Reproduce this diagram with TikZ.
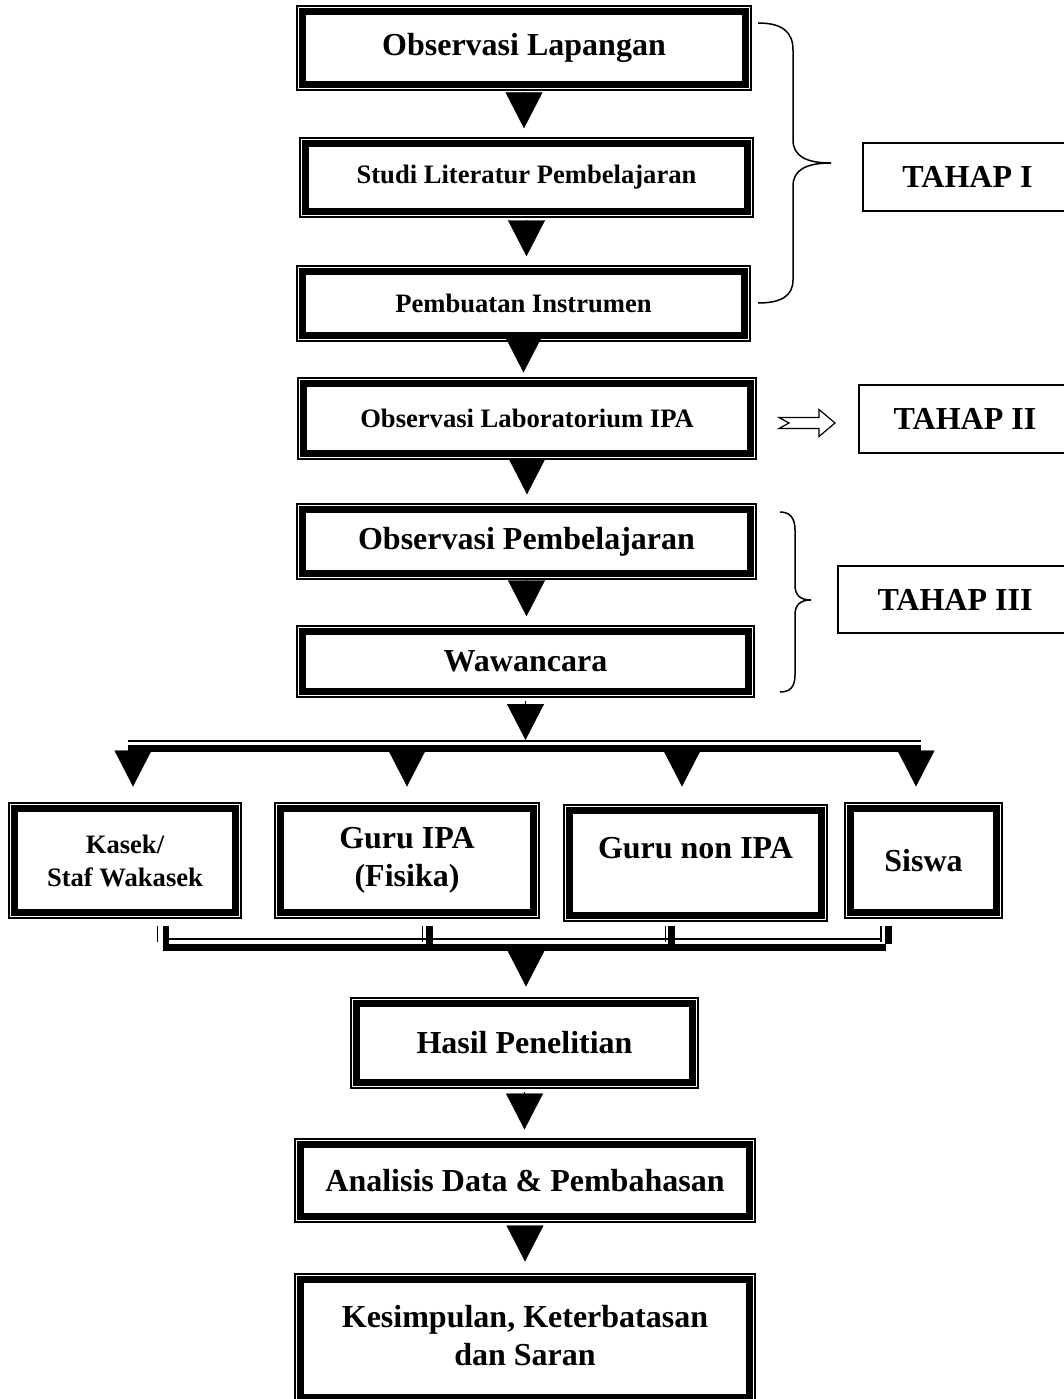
\documentclass[tikz,border=0pt]{standalone}
\usepackage{fontspec}
\setmainfont{Liberation Serif}
\usetikzlibrary{arrows.meta,calc}

\newcommand{\Lg}{\fontsize{32}{38}\selectfont\bfseries}
\newcommand{\Sm}{\fontsize{26.6}{33}\selectfont\bfseries}

\tikzset{
  inbox/.style={draw, rectangle, line width=7pt, inner sep=0pt, align=center},
  outline/.style={line width=1.6pt},
  tahap/.style={draw, rectangle, line width=1.5pt, inner sep=0pt, font=\Lg},
  blk/.style={line width=0.4pt, -{Triangle[width=37pt,length=36pt]}},
  thinbar/.style={line width=1.5pt},
  thickbar/.style={line width=6.7pt},
  brace/.style={line width=1.5pt},
}

% name, x1, y1, x2, y2, font, text
\newcommand{\fbx}[7]{%
  \draw[outline] (#2+0.8,#3+0.8) rectangle (#4-0.8,#5-0.8);
  \node[inbox, font=#6, minimum width={#4-#2-13.6}, minimum height={#5-#3-13.6}]
    (#1) at ({(#2+#4)/2},{(#3+#5)/2}) {#7};
}

\begin{document}
\begin{tikzpicture}[x=1pt,y=-1pt]
\useasboundingbox (0,0) rectangle (1064,1399);
\clip (0,0) rectangle (1064,1399);
\fill[white] (0,0) rectangle (1064,1399);

% main column
\fbx{b1}{296}{5}{752}{91}{\Lg}{Observasi Lapangan}
\fbx{b2}{299}{137}{754}{218}{\Sm}{Studi Literatur Pembelajaran}
\fbx{b3}{296}{265}{751}{342}{\Sm}{Pembuatan Instrumen}
\fbx{b4}{297}{377}{757}{460}{\Sm}{Observasi Laboratorium IPA}
\fbx{b5}{296}{503}{757}{580}{\Lg}{Observasi Pembelajaran}
\fbx{b6}{296}{625}{755}{698}{\Lg}{Wawancara}

% row
\fbx{k}{8}{802}{242}{919}{\Sm}{Kasek/\\Staf Wakasek}
\fbx{g}{274}{802}{540}{919}{\Lg}{Guru IPA\\(Fisika)}
\fbx{n}{563}{804}{828}{922}{\Lg}{\raisebox{30pt}{Guru non IPA}}
\fbx{s}{844}{802}{1003}{919}{\Lg}{Siswa}

% bottom column
\fbx{h}{350}{997}{699}{1089}{\Lg}{Hasil Penelitian}
\fbx{a}{294}{1138}{756}{1223}{\Lg}{Analisis Data \& Pembahasan}
\fbx{z}{294}{1273}{756}{1404}{\Lg}{\raisebox{8pt}{\begin{tabular}{@{}c@{}}Kesimpulan, Keterbatasan\\dan Saran\end{tabular}}}

% TAHAP boxes
\node[tahap, minimum width=209, minimum height=68] (t1) at (967.5,177) {TAHAP I};
\node[tahap, minimum width=212, minimum height=68] (t2) at (965,419) {TAHAP II};
\node[tahap, minimum width=234, minimum height=67] (t3) at (955,599.5) {TAHAP III};

% main arrows
\draw[blk, shorten <=6pt, shorten >=12pt] (b1.south) -- (b1.south |- b2.north);
\draw[blk, shorten <=6pt, shorten >=12pt] (b2.south) -- (b2.south |- b3.north);
\draw[blk, shorten <=4pt, shorten >=7.8pt] (b3.south) -- (b3.south |- b4.north);
\draw[blk, shorten <=6pt, shorten >=12pt] (b4.south) -- (b4.south |- b5.north);
\draw[blk, shorten <=6pt, shorten >=12pt] (b5.south) -- (b5.south |- b6.north);

% distribution bus
\coordinate (bus) at (526,741);
\draw[blk, shorten <=6pt, shorten >=1pt] (b6.south) -- (b6.south |- bus);
\draw[thinbar] (128,741) -- (921,741);
\draw[thickbar] (128,748.3) -- (921,748.3);

\coordinate (p1) at (133,751);
\coordinate (p2) at (407,751);
\coordinate (p3) at (682,751);
\coordinate (p4) at (916,751);
\draw[blk, shorten <=3.5pt, shorten >=18.8pt] (p1) -- (p1 |- k.north);
\draw[blk, shorten <=3.5pt, shorten >=18.8pt] (p2) -- (p2 |- g.north);
\draw[blk, shorten <=3.5pt, shorten >=20.8pt] (p3) -- (p3 |- n.north);
\draw[blk, shorten <=3.5pt, shorten >=18.8pt] (p4) -- (p4 |- s.north);

% collector
\coordinate (ck) at (157.5,926);
\coordinate (cg) at (422.5,926);
\coordinate (cn) at (665.5,926);
\coordinate (cs) at (881,926);
\foreach \c/\d in {ck/8.5, cg/7, cn/6, cs/7.7}{
  \draw[thinbar] (\c) -- ++(0,16);
  \draw[line width=6.6pt] ($(\c)+(\d,0)$) -- ++(0,18);
}
\draw[thinbar] (169,939) -- (881,939);
\draw[thickbar] (163,947.5) -- (886,947.5);

\coordinate (q) at (526,951);
\draw[blk, shorten <=3.5pt, shorten >=13.8pt] (q) -- (q |- h.north);
\draw[blk, shorten <=6pt, shorten >=11.8pt] (h.south) -- (h.south |- a.north);
\draw[blk, shorten <=6pt, shorten >=14.8pt] (a.south) -- (a.south |- z.north);

% brace for TAHAP I
\draw[brace] (758,23) .. controls (781,23) and (793,31) .. (793,50)
  -- (793,140) .. controls (793,156) and (806,163) .. (831,163)
  .. controls (806,163) and (793,170) .. (793,186)
  -- (793,280) .. controls (793,296) and (781,303) .. (758,303);

% notched arrow to TAHAP II
\draw[line width=1.2pt, line join=miter] (779,417.5) -- (819,417.5) -- (819,409.5) -- (835,423)
  -- (819,436.5) -- (819,428.5) -- (779,428.5) -- (789,423) -- cycle;

% brace for TAHAP III
\draw[brace] (780,512) .. controls (790,512) and (795,518) .. (795,530)
  -- (795,585) .. controls (795,595) and (800,600) .. (811,600)
  .. controls (800,600) and (795,605) .. (795,615)
  -- (795,675) .. controls (795,687) and (790,692) .. (780,692);
\end{tikzpicture}
\end{document}
